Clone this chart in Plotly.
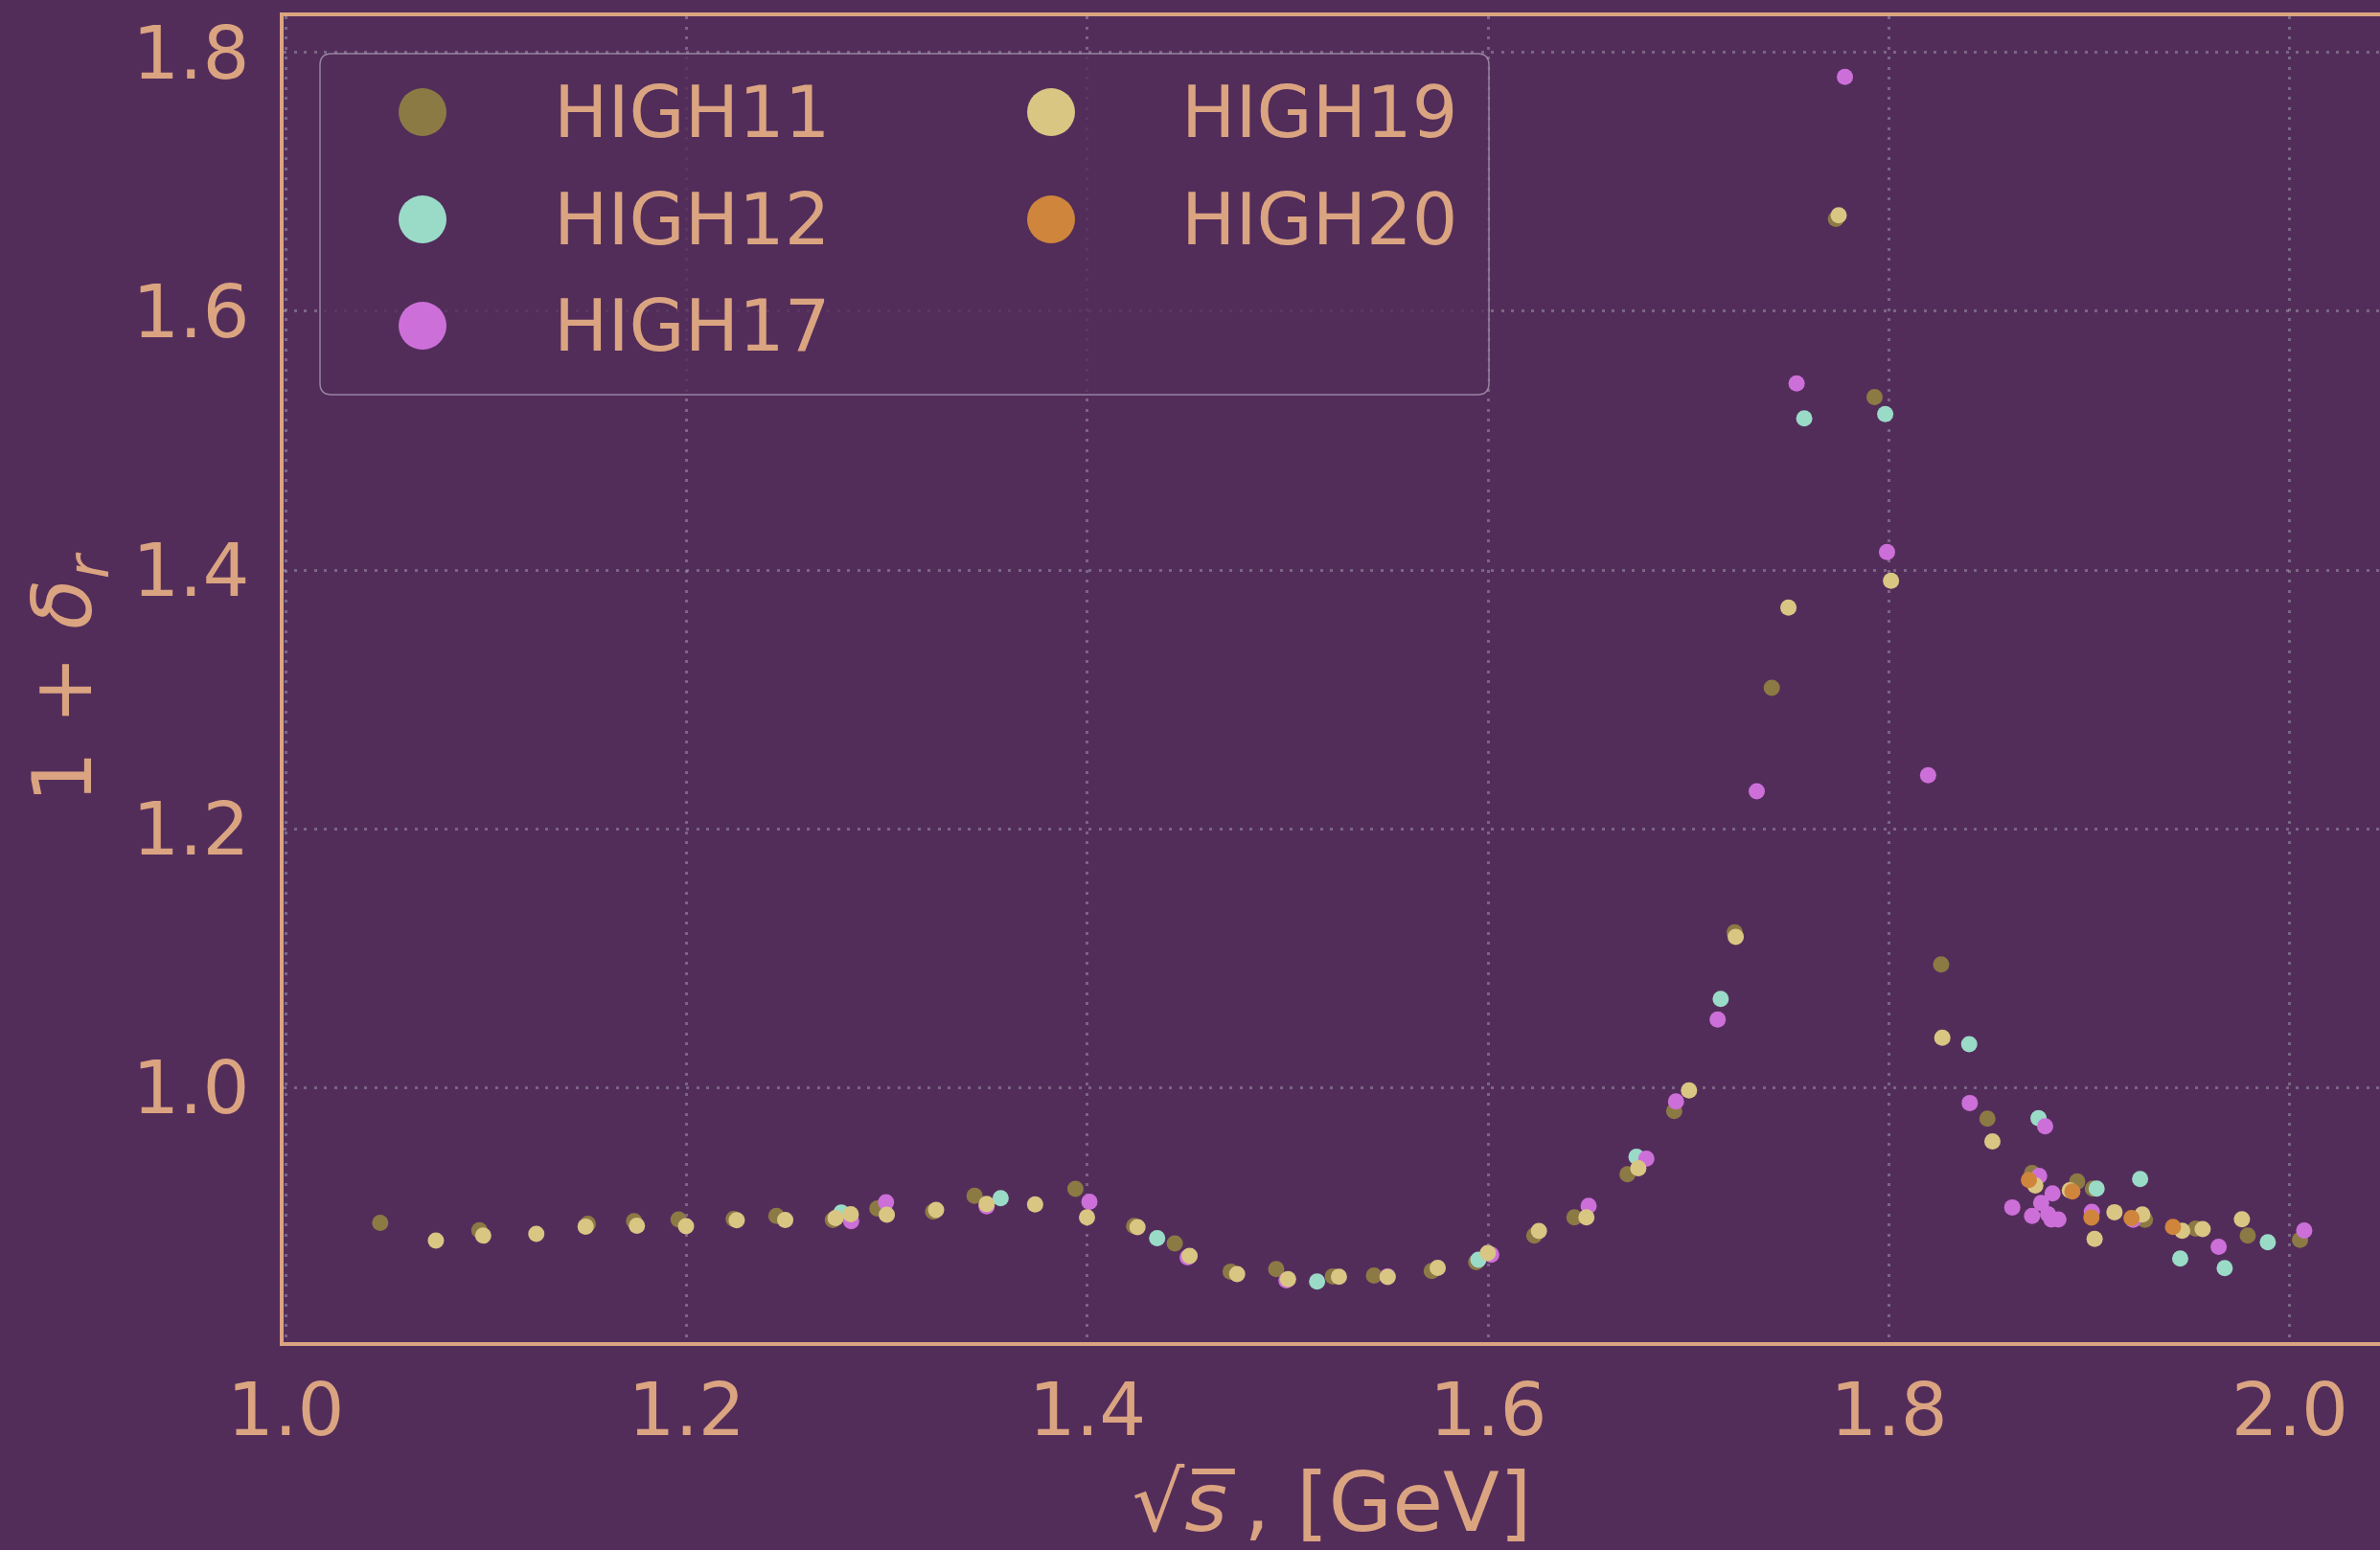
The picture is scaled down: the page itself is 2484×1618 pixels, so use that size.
import plotly.graph_objects as go

# ---- data: radiative correction factor 1 + delta_r vs sqrt(s) for each scan ----
series_names = ["HIGH11", "HIGH12", "HIGH17", "HIGH19", "HIGH20"]
series_colors = ["#8C7A45", "#9ADBC8", "#CD6FD9", "#D9C683", "#CF853C"]

high11_x = [1.0471, 1.0966, 1.1507, 1.1738, 1.1960, 1.2235, 1.2448, 1.2730, 1.2952,
            1.3230, 1.3437, 1.3940, 1.4233, 1.4436, 1.4715, 1.4942, 1.5225, 1.5430,
            1.5718, 1.5940, 1.6230, 1.6430, 1.6695, 1.6928, 1.7230, 1.7415, 1.7735,
            1.7928, 1.8260, 1.8491, 1.8714, 1.8939, 1.9017, 1.9277, 1.9530, 1.9790,
            2.0051]
high11_y = [0.8956, 0.8899, 0.8949, 0.8968, 0.8981, 0.8986, 0.9010, 0.8978, 0.9067,
            0.9042, 0.9164, 0.9218, 0.8931, 0.8796, 0.8579, 0.8598, 0.8542, 0.8549,
            0.8583, 0.8653, 0.8857, 0.8998, 0.9331, 0.9820, 1.1200, 1.3090, 1.6715,
            1.5338, 1.0952, 0.9760, 0.9341, 0.9275, 0.9220, 0.8979, 0.8912, 0.8857,
            0.8825]

high12_x = [1.2772, 1.3567, 1.4348, 1.5146, 1.5951, 1.6740, 1.7160, 1.7577, 1.7981,
            1.8400, 1.8746, 1.9036, 1.9253, 1.9453, 1.9675, 1.9890]
high12_y = [0.9035, 0.9146, 0.8838, 0.8502, 0.8670, 0.9466, 1.0687, 1.5173, 1.5206,
            1.0336, 0.9765, 0.9220, 0.9294, 0.8680, 0.8606, 0.8805]

high17_x = [1.2821, 1.2995, 1.3497, 1.4010, 1.4500, 1.4993, 1.5498, 1.6015, 1.6501,
            1.6789, 1.6937, 1.7145, 1.7340, 1.7539, 1.7780, 1.7990, 1.8195, 1.8403,
            1.8615, 1.8714, 1.8749, 1.8759, 1.8779, 1.8794, 1.8810, 1.8816, 1.8845,
            1.9012, 1.9218, 1.9645, 2.0072]
high17_y = [0.8968, 0.9114, 0.9084, 0.9119, 0.8690, 0.8512, 0.8542, 0.8709, 0.9087,
            0.9451, 0.9894, 1.0527, 1.2290, 1.5443, 1.7812, 1.4139, 1.2414, 0.9882,
            0.9075, 0.9010, 0.9319, 0.9109, 0.9701, 0.9023, 0.8981, 0.9183, 0.8981,
            0.9040, 0.8980, 0.8771, 0.8897]

high19_x = [1.0749, 1.0985, 1.1250, 1.1496, 1.1752, 1.1997, 1.2250, 1.2492, 1.2743,
            1.2819, 1.2999, 1.3245, 1.3497, 1.3739, 1.3998, 1.4250, 1.4510, 1.4747,
            1.5001, 1.5255, 1.5498, 1.5748, 1.5998, 1.6253, 1.6490, 1.6749, 1.7002,
            1.7235, 1.7498, 1.7749, 1.8010, 1.8266, 1.8516, 1.8730, 1.8902, 1.9026,
            1.9125, 1.9264, 1.9463, 1.9565, 1.9761]
high19_y = [0.8818, 0.8857, 0.8870, 0.8927, 0.8934, 0.8929, 0.8976, 0.8978, 0.8993,
            0.9023, 0.9018, 0.9055, 0.9101, 0.9099, 0.8998, 0.8922, 0.8700, 0.8559,
            0.8520, 0.8539, 0.8537, 0.8608, 0.8722, 0.8892, 0.8998, 0.9377, 0.9980,
            1.1165, 1.3710, 1.6742, 1.3917, 1.0386, 0.9585, 0.9245, 0.9208, 0.8831,
            0.9038, 0.9020, 0.8894, 0.8907, 0.8983]

high20_x = [1.8698, 1.8915, 1.9010, 1.9210, 1.9417]
high20_y = [0.9287, 0.9198, 0.8996, 0.8993, 0.8924]

series_x = [high11_x, high12_x, high17_x, high19_x, high20_x]
series_y = [high11_y, high12_y, high17_y, high19_y, high20_y]

# ---- style ----
BG = "#532D5A"
FG = "#DBA481"
GRID = "rgba(160,160,172,0.5)"
FONT = "DejaVu Sans"
W, H = 2484, 1618
ML, MR, MT, MB = 296, 0, 17, 217
PW, PH = W - ML - MR, H - MT - MB

fig = go.Figure()
for name, color, xs, ys in zip(series_names, series_colors, series_x, series_y):
    fig.add_trace(go.Scatter(
        x=xs, y=ys, mode="markers", name=name,
        marker=dict(color=color, size=17, line=dict(width=0)),
    ))


def px_to_paper(px, py):
    return (px - ML) / PW, (H - MB - py) / PH


# ---- legend: rounded box, two columns of big dots + labels ----
shapes = []
annotations = []
bx0, by0, bx1, by1, rad = 334, 56, 1554, 412, 12
x0p, y0p = px_to_paper(bx0, by0)
x1p, y1p = px_to_paper(bx1, by1)
rx, ry = rad / PW, rad / PH
box_path = (
    f"M {x0p + rx},{y0p} L {x1p - rx},{y0p} Q {x1p},{y0p} {x1p},{y0p - ry} "
    f"L {x1p},{y1p + ry} Q {x1p},{y1p} {x1p - rx},{y1p} "
    f"L {x0p + rx},{y1p} Q {x0p},{y1p} {x0p},{y1p + ry} "
    f"L {x0p},{y0p - ry} Q {x0p},{y0p} {x0p + rx},{y0p} Z"
)
shapes.append(dict(type="path", xref="paper", yref="paper", path=box_path,
                   line=dict(color="rgba(175,160,185,0.75)", width=1.5),
                   fillcolor="rgba(83,45,90,0.8)", layer="above"))

col_marker_x = [441, 1097]
col_text_x = [576, 1231]
row_y = [117, 229, 340]
for i, (name, color) in enumerate(zip(series_names, series_colors)):
    col, row = divmod(i, 3)
    mx, my = px_to_paper(col_marker_x[col], row_y[row])
    shapes.append(dict(type="circle", xref="paper", yref="paper",
                       xsizemode="pixel", ysizemode="pixel",
                       xanchor=mx, yanchor=my, x0=-25, x1=25, y0=-25, y1=25,
                       fillcolor=color, line=dict(width=0), layer="above"))
    tx, ty = px_to_paper(col_text_x[col], row_y[row])
    annotations.append(dict(xref="paper", yref="paper", x=tx, y=ty,
                            xanchor="left", yanchor="middle", showarrow=False,
                            text=name, font=dict(family=FONT, size=75, color=FG)))

fig.update_layout(
    width=W, height=H,
    margin=dict(l=ML, r=MR, t=MT, b=MB, pad=0, autoexpand=False),
    paper_bgcolor=BG, plot_bgcolor=BG,
    showlegend=False,
    font=dict(family=FONT, color=FG, size=77),
    shapes=shapes, annotations=annotations,
)

fig.update_xaxes(
    range=[0.9989, 2.045], tick0=1.0, dtick=0.2, tickformat=".1f",
    automargin=False,
    showline=True, linecolor=FG, linewidth=4, mirror=True,
    showgrid=True, gridcolor=GRID, gridwidth=2.5, griddash="3px,7.5px",
    zeroline=False, ticks="", ticklabelstandoff=1,
    tickfont=dict(family=FONT, size=77, color=FG),
    title=dict(text="√<i>s\u0305</i>\u2009, [GeV]",
               font=dict(family=FONT, size=86, color=FG), standoff=55),
)
fig.update_yaxes(
    range=[0.8034, 1.828], tick0=1.0, dtick=0.2, tickformat=".1f",
    automargin=False,
    showline=True, linecolor=FG, linewidth=4, mirror=False,
    showgrid=True, gridcolor=GRID, gridwidth=2.5, griddash="3px,7.5px",
    zeroline=False, ticks="", ticklabelstandoff=16,
    tickfont=dict(family=FONT, size=77, color=FG),
    title=dict(text="1 + <i>δ</i><sub><i>r</i></sub>",
               font=dict(family=FONT, size=86, color=FG), standoff=15),
)

fig.write_html("out.html", config={"displayModeBar": False})
